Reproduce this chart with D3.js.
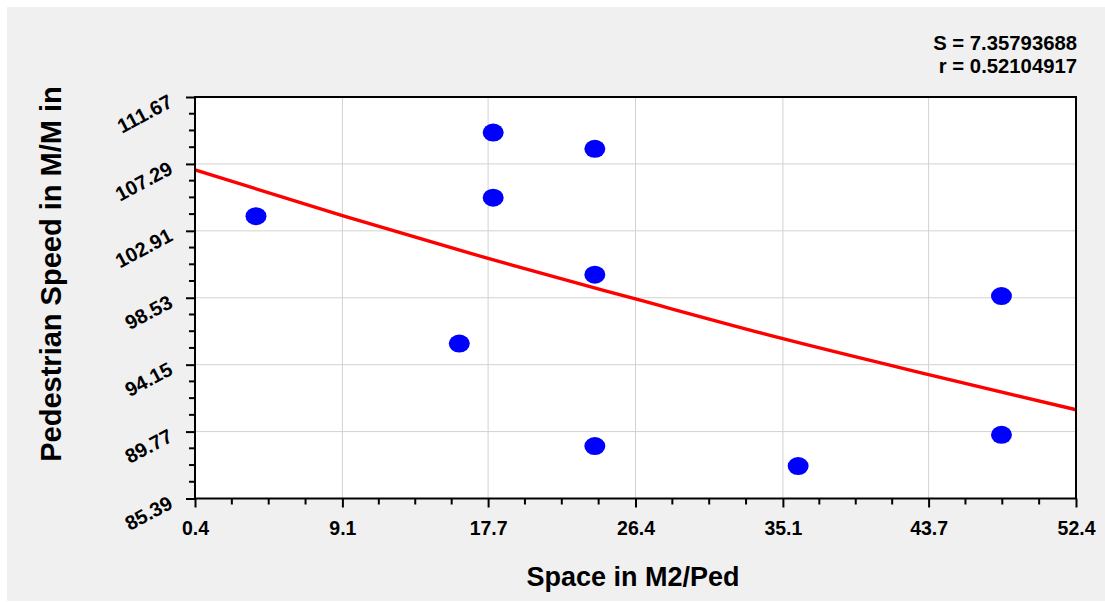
<!DOCTYPE html>
<html>
<head>
<meta charset="utf-8">
<script src="https://cdn.jsdelivr.net/npm/d3@7"></script>
<style>
    body { margin: 0; background: #fff; }
    svg text { font-family: "Liberation Sans", Arial, sans-serif; font-weight: bold; fill: #000; }
</style>
</head>
<body>
<div id="chart"></div>
<script>
//Datos
const spaceVals = [4, 18, 24, 18, 24, 16, 24, 36, 48, 48];
const speedVals = [103.87, 109.34, 108.28, 105.08, 100.04, 95.53, 88.82, 87.51, 98.64, 89.56];
//Curva de ajuste
const fitX = [0.4, 9.1, 17.7, 26.4, 35.1, 43.7, 52.4];
const fitY = [106.9, 103.9, 101.1, 98.45, 95.85, 93.5, 91.2];
//Ticks
const xTicks = [0.4, 9.1, 17.7, 26.4, 35.1, 43.7, 52.4];
const yTicks = [85.39, 89.77, 94.15, 98.53, 102.91, 107.29, 111.67];
const statLines = ['S = 7.35793688', 'r = 0.52104917'];
const xTitle = 'Space in M2/Ped', yTitle = 'Pedestrian Speed in M/M in';

let margin = {top: 97, right: 29, bottom: 103.5, left: 195},
    W = 1105, H = 602,
    width = W - margin.left - margin.right,
    height = H - margin.top - margin.bottom;

let root = d3.select('#chart')
    .append('svg')
        .attr('width', W)
        .attr('height', H);

//Fondo gris
root.append('rect')
    .attr('x', 7).attr('y', 7)
    .attr('width', W - 7).attr('height', 594)
    .attr('fill', '#f0f0f0');

let svg = root.append('g')
    .attr('transform', 'translate(' + margin.left + ',' + margin.top + ')');

let x = d3.scaleLinear()
    .domain([xTicks[0], xTicks[xTicks.length - 1]])
    .range([0, width]);

let y = d3.scaleLinear()
    .domain([yTicks[0], yTicks[yTicks.length - 1]])
    .range([height, 0]);

svg.append('rect')
    .attr('width', width).attr('height', height)
    .attr('fill', '#fff');

//Rejilla
svg.append('g')
    .selectAll('line')
    .data(xTicks.slice(1, -1))
    .enter()
    .append('line')
    .attr('x1', function(d) { return x(d); })
    .attr('x2', function(d) { return x(d); })
    .attr('y1', 0).attr('y2', height)
    .attr('stroke', '#d2d2d2').attr('stroke-width', 1);

svg.append('g')
    .selectAll('line')
    .data(yTicks.slice(1, -1))
    .enter()
    .append('line')
    .attr('y1', function(d) { return y(d); })
    .attr('y2', function(d) { return y(d); })
    .attr('x1', 0).attr('x2', width)
    .attr('stroke', '#d2d2d2').attr('stroke-width', 1);

//Ticks menores
function minors(ticks) {
    let out = [];
    for (let i = 0; i < ticks.length - 1; i++) {
        let step = (ticks[i + 1] - ticks[i]) / 4;
        for (let k = 1; k < 4; k++) out.push(ticks[i] + step * k);
    }
    return out;
}

//Eje X
let xAxis = function(g) {
    g.call(d3.axisBottom(x).tickValues(xTicks).tickSize(9).tickSizeOuter(0).tickFormat(d3.format('.1f')));
    g.call(function(g) { g.select('.domain').remove(); });
    g.selectAll('.tick line').attr('stroke', '#000').attr('stroke-width', 2);
    g.selectAll('.tick text')
        .attr('y', 36).attr('dy', 0)
        .style('font-size', '19.5px');
};

svg.append('g')
    .attr('transform', 'translate(0,' + height + ')')
    .call(xAxis);

svg.append('g')
    .selectAll('line')
    .data(minors(xTicks))
    .enter()
    .append('line')
    .attr('x1', function(d) { return x(d); })
    .attr('x2', function(d) { return x(d); })
    .attr('y1', height).attr('y2', height + 6)
    .attr('stroke', '#000').attr('stroke-width', 2);

//Eje Y
let yAxis = function(g) {
    g.call(d3.axisLeft(y).tickValues(yTicks).tickSize(9).tickSizeOuter(0).tickFormat(d3.format('.2f')));
    g.call(function(g) { g.select('.domain').remove(); });
    g.selectAll('.tick line').attr('stroke', '#000').attr('stroke-width', 2);
    g.selectAll('.tick text')
        .attr('x', -21).attr('y', 8.5).attr('dy', 0)
        .attr('text-anchor', 'end')
        .attr('transform', 'rotate(-28,-21,8.5)')
        .style('font-size', '20px');
};

svg.append('g')
    .call(yAxis);

svg.append('g')
    .selectAll('line')
    .data(minors(yTicks))
    .enter()
    .append('line')
    .attr('y1', function(d) { return y(d); })
    .attr('y2', function(d) { return y(d); })
    .attr('x1', -6).attr('x2', 0)
    .attr('stroke', '#000').attr('stroke-width', 2);

//Curva de ajuste
let line = d3.line()
    .x(function(d, i) { return x(fitX[i]); })
    .y(function(d) { return y(d); })
    .curve(d3.curveMonotoneX);

svg.append('path')
    .datum(fitY)
    .attr('d', line)
    .attr('fill', 'none')
    .attr('stroke', '#ff0000')
    .attr('stroke-width', 3.4);

//Puntos
svg.append('g')
    .selectAll('ellipse')
    .data(spaceVals)
    .enter()
    .append('ellipse')
    .attr('cx', function(d) { return x(d); })
    .attr('cy', function(d, i) { return y(speedVals[i]); })
    .attr('rx', 10.5).attr('ry', 9)
    .attr('fill', '#0000ff');

//Marco
svg.append('rect')
    .attr('width', width).attr('height', height)
    .attr('fill', 'none')
    .attr('stroke', '#000').attr('stroke-width', 2);

//Estadísticos
root.append('g')
    .selectAll('text')
    .data(statLines)
    .enter()
    .append('text')
    .attr('x', 1077)
    .attr('y', function(d, i) { return 50 + i * 23; })
    .attr('text-anchor', 'end')
    .style('font-size', '20.3px')
    .text(function(d) { return d; });

//Títulos
root.append('text')
    .attr('x', 633).attr('y', 586)
    .attr('text-anchor', 'middle')
    .style('font-size', '27px')
    .text(xTitle);

root.append('text')
    .attr('transform', 'translate(61,274) rotate(-90)')
    .attr('text-anchor', 'middle')
    .style('font-size', '29px')
    .text(yTitle);
</script>
</body>
</html>
